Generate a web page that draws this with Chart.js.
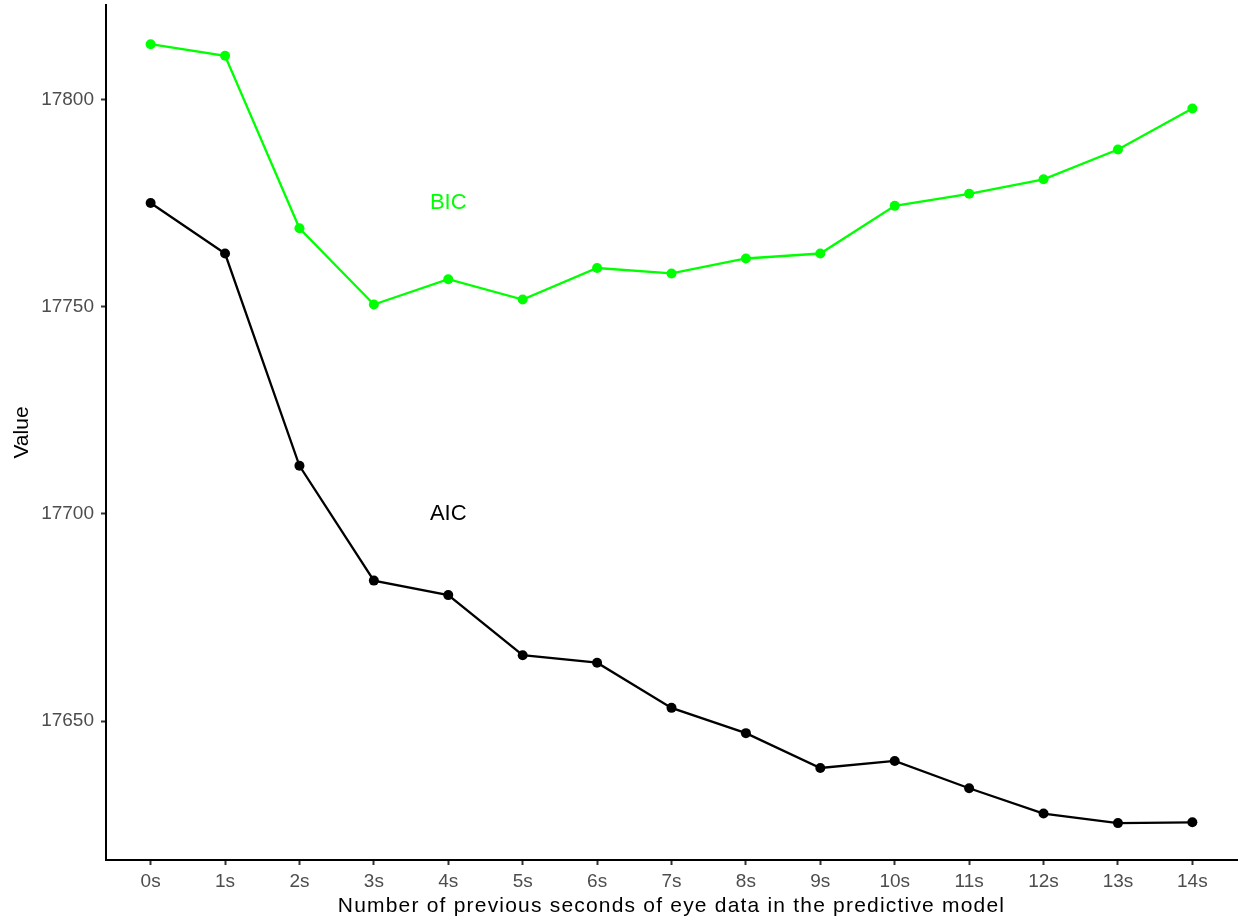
<!DOCTYPE html>
<html>
<head>
<meta charset="utf-8">
<script src="https://cdn.jsdelivr.net/npm/chart.js@4/dist/chart.umd.min.js"></script>
<style>
    html, body { margin: 0; padding: 0; background: #fff; }
    #wrap { width: 1238px; height: 919px; }
</style>
</head>
<body>
<div id="wrap"><canvas id="chart" width="1238" height="919"></canvas></div>
<script>
    const categories = ['0s', '1s', '2s', '3s', '4s', '5s', '6s', '7s', '8s', '9s', '10s', '11s', '12s', '13s', '14s'];
    const bicValues = [17813.3, 17810.5, 17768.9, 17750.5, 17756.6, 17751.7, 17759.3, 17758.0, 17761.6, 17762.8, 17774.3, 17777.2, 17780.7, 17787.9, 17797.8];
    const aicValues = [17775.0, 17762.8, 17711.6, 17683.9, 17680.4, 17665.9, 17664.1, 17653.2, 17647.1, 17638.7, 17640.4, 17633.8, 17627.7, 17625.4, 17625.6];
    const yTicks = [17650, 17700, 17750, 17800];

    // text labels placed inside the plot
    const labelNames = ['BIC', 'AIC'];
    const labelX = [4, 4];
    const labelY = [17775, 17700];
    const labelColors = ['#00FF00', '#000000'];

    const xTitle = 'Number of previous seconds of eye data in the predictive model';
    const yTitle = 'Value';

    const FONT = '"Liberation Sans", Arial, Helvetica, sans-serif';

    function toPoints(values) {
        return values.map((v, i) => ({ x: i, y: v }));
    }

    const textLabels = {
        id: 'textLabels',
        afterDatasetsDraw(chart) {
            const { ctx, scales } = chart;
            ctx.save();
            ctx.font = '22px ' + FONT;
            ctx.textAlign = 'center';
            ctx.textBaseline = 'middle';
            labelNames.forEach((name, i) => {
                ctx.fillStyle = labelColors[i];
                ctx.fillText(name, scales.x.getPixelForValue(labelX[i]), scales.y.getPixelForValue(labelY[i]));
            });
            ctx.restore();
        },
        afterDraw(chart) {
            // x axis title, drawn by hand to get the wider letter spacing
            const { ctx, chartArea } = chart;
            ctx.save();
            ctx.font = '21px ' + FONT;
            ctx.fillStyle = '#000000';
            if ('letterSpacing' in ctx) ctx.letterSpacing = '1.2px';
            ctx.textAlign = 'center';
            ctx.textBaseline = 'alphabetic';
            ctx.fillText(xTitle, (chartArea.left + chartArea.right) / 2, chartArea.bottom + 52);
            ctx.restore();
        }
    };

    const tickGrid = {
        display: true,
        drawOnChartArea: false,
        drawTicks: true,
        tickLength: 5,
        tickColor: '#333333',
        tickWidth: 2
    };

    new Chart(document.getElementById('chart'), {
        type: 'line',
        data: {
            datasets: [
                {
                    label: 'BIC',
                    data: toPoints(bicValues),
                    borderColor: '#00FF00',
                    backgroundColor: '#00FF00',
                    borderWidth: 2.3,
                    pointRadius: 5,
                    pointBorderWidth: 0,
                    tension: 0
                },
                {
                    label: 'AIC',
                    data: toPoints(aicValues),
                    borderColor: '#000000',
                    backgroundColor: '#000000',
                    borderWidth: 2.3,
                    pointRadius: 5,
                    pointBorderWidth: 0,
                    tension: 0
                }
            ]
        },
        options: {
            responsive: false,
            animation: false,
            layout: { autoPadding: false, padding: { top: 5, right: 1, left: 0, bottom: 0 } },
            plugins: {
                legend: { display: false },
                tooltip: { enabled: false }
            },
            scales: {
                x: {
                    type: 'linear',
                    min: -0.6,
                    max: categories.length - 1 + 0.6,
                    afterBuildTicks(scale) {
                        scale.ticks = categories.map((_, i) => ({ value: i }));
                    },
                    afterFit(scale) {
                        scale.height = 59;
                        scale.paddingLeft = 0;
                        scale.paddingRight = 0;
                    },
                    ticks: {
                        callback: (v) => categories[v] ?? '',
                        color: '#4D4D4D',
                        font: { family: FONT, size: 19 },
                        padding: 5,
                        maxRotation: 0,
                        autoSkip: false
                    },
                    grid: tickGrid,
                    border: { display: true, color: '#000000', width: 2 },
                    title: { display: false }
                },
                y: {
                    min: 17616.5,
                    max: 17822.75,
                    afterBuildTicks(scale) {
                        scale.ticks = yTicks.map(v => ({ value: v }));
                    },
                    afterFit(scale) {
                        scale.width = 106;
                        scale.paddingTop = 0;
                        scale.paddingBottom = 0;
                    },
                    ticks: {
                        callback: (v) => String(v),
                        color: '#4D4D4D',
                        font: { family: FONT, size: 19 },
                        padding: 7
                    },
                    grid: tickGrid,
                    border: { display: true, color: '#000000', width: 2 },
                    title: {
                        display: true,
                        text: yTitle,
                        color: '#000000',
                        font: { family: FONT, size: 21 },
                        padding: { top: 10, bottom: 0 }
                    }
                }
            }
        },
        plugins: [textLabels]
    });
</script>
</body>
</html>
